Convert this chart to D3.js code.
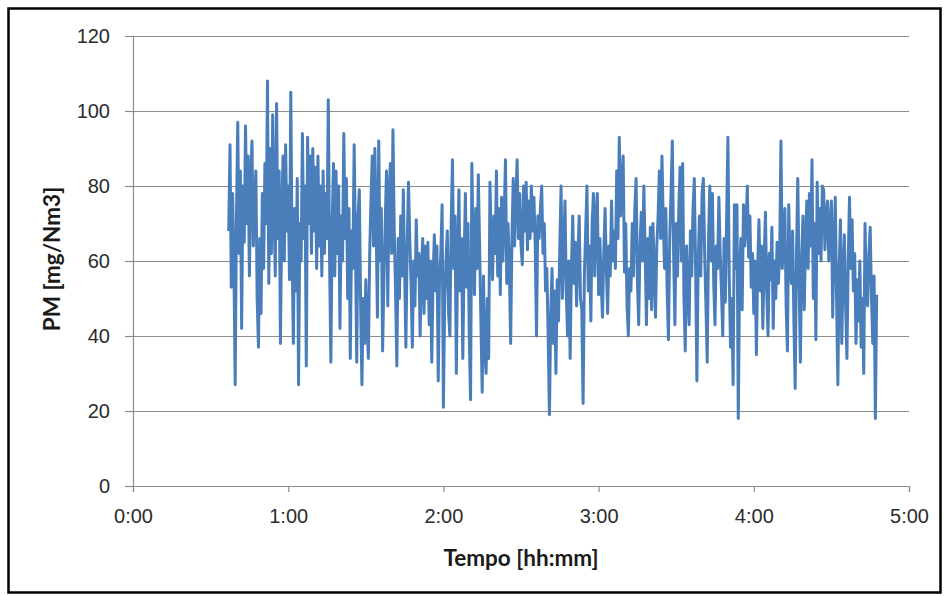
<!DOCTYPE html>
<html>
<head>
<meta charset="utf-8">
<script src="https://cdn.jsdelivr.net/npm/d3@7"></script>
<style>
  body { margin: 0; background: #fff; }
  svg { display: block; font-family: Lato, 'Open Sans', sans-serif; }
</style>
</head>
<body>
<svg id="chart" width="944" height="596"></svg>
<script>
// minutes from the start of the run, one reading every 30 s
const startMinute = 37
const stepMinutes = 0.5

// PM readings [mg/Nm3], ten minutes per row
const pm = [
  68, 91, 53, 78, 60, 27, 72, 97, 62, 84, 42, 80, 65, 96, 70, 88, 56, 82, 92, 64,
  75, 84, 50, 37, 66, 46, 78, 58, 86, 70, 108, 54, 90, 62, 99, 75, 56, 102, 66, 84,
  38, 72, 88, 60, 91, 68, 80, 55, 105, 62, 38, 74, 52, 82, 27, 70, 60, 94, 66, 80,
  32, 93, 70, 88, 62, 90, 68, 85, 58, 88, 64, 80, 56, 84, 62, 78, 66, 103, 60, 33,
  70, 86, 56, 84, 62, 80, 42, 72, 60, 94, 66, 82, 50, 74, 34, 68, 58, 91, 64, 33,
  72, 79, 48, 27, 50, 38, 55, 42, 34, 62, 76, 88, 64, 90, 70, 45, 92, 60, 74, 36,
  55, 70, 84, 48, 78, 86, 62, 95, 68, 52, 32, 66, 50, 72, 56, 79, 58, 37, 64, 81,
  66, 54, 37, 60, 48, 71, 56, 62, 40, 58, 66, 46, 64, 50, 65, 43, 60, 33, 55, 67,
  52, 64, 28, 55, 62, 75, 21, 50, 60, 68, 46, 40, 70, 87, 58, 72, 30, 62, 79, 52,
  66, 34, 60, 78, 53, 70, 40, 23, 86, 62, 51, 74, 58, 83, 64, 44, 25, 56, 36, 30,
  50, 34, 81, 64, 55, 72, 62, 84, 56, 74, 51, 77, 60, 72, 87, 54, 70, 58, 38, 66,
  82, 64, 76, 87, 66, 78, 64, 59, 80, 68, 81, 63, 76, 66, 80, 68, 77, 64, 40, 72,
  66, 74, 80, 62, 70, 52, 58, 40, 19, 46, 58, 38, 52, 30, 55, 44, 64, 80, 50, 62,
  76, 52, 40, 60, 34, 58, 72, 54, 65, 48, 62, 72, 50, 47, 22, 56, 68, 80, 52, 64,
  44, 70, 78, 56, 72, 78, 51, 66, 54, 45, 62, 74, 58, 46, 64, 56, 76, 60, 68, 58,
  84, 66, 93, 72, 80, 88, 57, 70, 48, 40, 58, 52, 70, 56, 74, 82, 55, 43, 64, 73,
  60, 80, 62, 43, 66, 50, 69, 47, 70, 58, 45, 64, 72, 84, 66, 88, 70, 58, 74, 52,
  39, 66, 78, 92, 62, 43, 70, 56, 74, 85, 60, 86, 50, 36, 64, 52, 43, 68, 56, 74,
  82, 58, 28, 60, 72, 56, 78, 82, 62, 48, 33, 66, 80, 60, 78, 54, 43, 64, 58, 77,
  62, 52, 40, 66, 49, 72, 93, 56, 37, 50, 27, 75, 58, 75, 18, 56, 66, 47, 75, 64,
  70, 80, 61, 72, 53, 62, 46, 60, 35, 58, 71, 52, 64, 42, 60, 73, 52, 40, 62, 55,
  69, 42, 60, 50, 65, 54, 62, 92, 58, 66, 74, 48, 36, 75, 60, 54, 68, 44, 26, 62,
  82, 56, 33, 60, 72, 47, 66, 76, 58, 78, 64, 87, 50, 70, 39, 81, 62, 74, 60, 80,
  79, 63, 72, 76, 60, 70, 76, 45, 64, 77, 50, 27, 58, 71, 38, 56, 67, 48, 34, 60,
  77, 58, 71, 52, 62, 38, 55, 44, 60, 37, 50, 30, 70, 52, 48, 62, 69, 50, 38, 56,
  18, 51
]

const yTicks = [0, 20, 40, 60, 80, 100, 120]
const xTicks = [0, 60, 120, 180, 240, 300]

const margin = { top: 36, right: 35, bottom: 110, left: 133 }
const svg = d3.select('#chart')
const width = +svg.attr('width') - margin.left - margin.right
const height = +svg.attr('height') - margin.top - margin.bottom

// outer frame round the whole picture
svg.append('rect')
  .attr('x', 8.5)
  .attr('y', 8.5)
  .attr('width', 932)
  .attr('height', 584)
  .attr('fill', 'none')
  .attr('stroke', '#000')
  .attr('stroke-width', 2.5)

const g = svg.append('g').attr('transform', `translate(${margin.left},${margin.top})`)

const x = d3.scaleLinear().domain([0, 300]).range([0, width])
const y = d3.scaleLinear().domain([0, 120]).range([height, 0])

const hhmm = m => `${Math.floor(m / 60)}:${d3.format('02d')(m % 60)}`

// horizontal grid
g.append('g')
  .attr('class', 'grid')
  .call(d3.axisLeft(y).tickValues(yTicks).tickSize(-width).tickFormat(''))
  .call(s => s.select('.domain').remove())
  .call(s => s.selectAll('line').attr('stroke', '#8c8c8c').attr('stroke-width', 1.2))

// y axis
g.append('g')
  .call(d3.axisLeft(y).tickValues(yTicks).tickSize(8).tickPadding(15))
  .call(s => s.select('.domain').attr('stroke', '#8c8c8c').attr('stroke-width', 1.2))
  .call(s => s.selectAll('line').attr('stroke', '#8c8c8c').attr('stroke-width', 1.2))
  .call(s => s.selectAll('text').attr('fill', '#2b2b2b').style('font-size', '20px'))

// x axis
g.append('g')
  .attr('transform', `translate(0,${height})`)
  .call(d3.axisBottom(x).tickValues(xTicks).tickSize(6).tickPadding(17).tickFormat(hhmm))
  .call(s => s.select('.domain').attr('stroke', '#8c8c8c').attr('stroke-width', 1.2))
  .call(s => s.selectAll('line').attr('stroke', '#8c8c8c').attr('stroke-width', 1.2))
  .call(s => s.selectAll('text').attr('fill', '#2b2b2b').style('font-size', '20px'))

const line = d3.line()
  .x((d, i) => x(startMinute + i * stepMinutes))
  .y(d => y(d))

g.append('path')
  .datum(pm)
  .attr('fill', 'none')
  .attr('stroke', '#4a7ebb')
  .attr('stroke-width', 3)
  .attr('stroke-linejoin', 'round')
  .attr('d', line)

// axis titles
svg.append('text')
  .attr('x', 521)
  .attr('y', 566)
  .attr('text-anchor', 'middle')
  .attr('fill', '#1a1a1a')
  .style('font-size', '22.5px')
  .style('font-weight', 'bold')
  .text('Tempo [hh:mm]')

svg.append('text')
  .attr('transform', 'translate(60,259) rotate(-90)')
  .attr('text-anchor', 'middle')
  .attr('fill', '#1a1a1a')
  .style('font-size', '22.5px')
  .style('font-weight', 'bold')
  .text('PM [mg/Nm3]')
</script>
</body>
</html>
